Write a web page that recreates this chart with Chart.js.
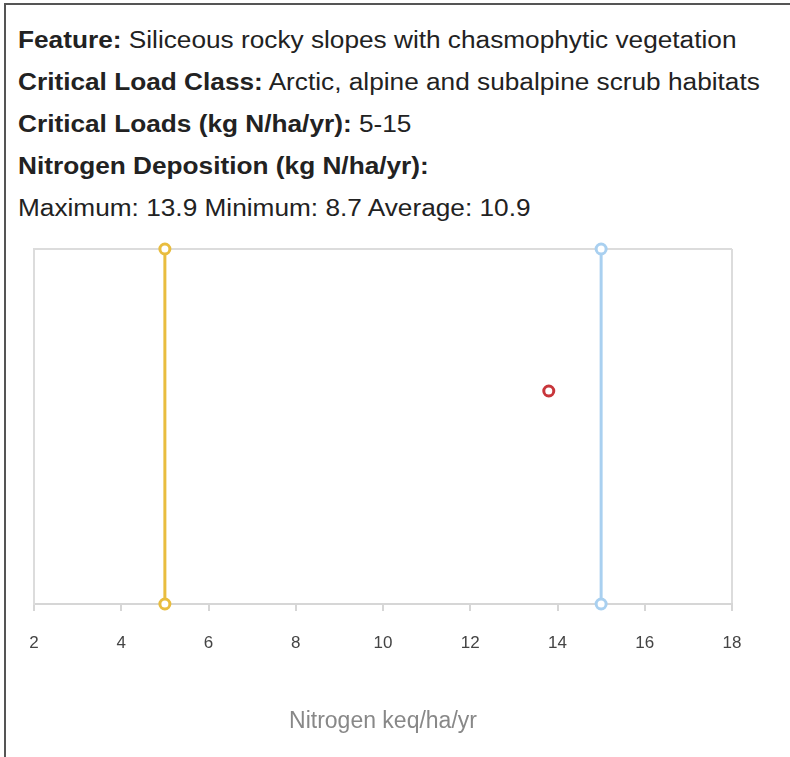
<!DOCTYPE html>
<html>
<head>
<meta charset="utf-8">
<script src="https://cdn.jsdelivr.net/npm/chart.js@4/dist/chart.umd.min.js"></script>
<style>
  html, body { margin: 0; padding: 0; background: #fff; width: 790px; height: 757px; overflow: hidden; }
  .frame { position: absolute; left: 4px; top: 3px; width: 800px; height: 800px;
           border-left: 2px solid #555; border-top: 2px solid #555; }
  .info { position: absolute; left: 18px; top: 19px; font-family: "Liberation Sans", Arial, sans-serif;
          font-size: 23px; color: #222; line-height: 42px; white-space: nowrap;
          transform: scaleX(1.14); transform-origin: 0 0; }
  .info b { font-weight: bold; }
  #wrap { position: absolute; left: 0; top: 230px; width: 790px; height: 527px; }
</style>
</head>
<body>
<div class="frame"></div>
<div class="info">
  <div><b>Feature:</b> Siliceous rocky slopes with chasmophytic vegetation</div>
  <div><b>Critical Load Class:</b> Arctic, alpine and subalpine scrub habitats</div>
  <div><b>Critical Loads (kg N/ha/yr):</b> 5-15</div>
  <div><b>Nitrogen Deposition (kg N/ha/yr):</b></div>
  <div>Maximum: 13.9 Minimum: 8.7 Average: 10.9</div>
</div>
<div id="wrap"><canvas id="c"></canvas></div>
<script>
const criticalLoadMin = 5;
const criticalLoadMax = 15;
const depositionMax = 13.8;
const depositionY = 0.6;
const xTicks = [2, 4, 6, 8, 10, 12, 14, 16, 18];
const lineSpanY = [0, 1];

const ptStyle = { pointRadius: 5, pointHoverRadius: 5, pointBorderWidth: 3, pointBackgroundColor: '#fff' };

new Chart(document.getElementById('c'), {
  type: 'scatter',
  data: {
    datasets: [
      Object.assign({
        label: 'Critical load min',
        data: lineSpanY.map(y => ({ x: criticalLoadMin, y })),
        showLine: true, borderColor: '#e9bd3f', pointBorderColor: '#e9bd3f', borderWidth: 3, clip: false
      }, ptStyle),
      Object.assign({
        label: 'Critical load max',
        data: lineSpanY.map(y => ({ x: criticalLoadMax, y })),
        showLine: true, borderColor: '#a9d0f0', pointBorderColor: '#a9d0f0', borderWidth: 3, clip: false
      }, ptStyle),
      Object.assign({
        label: 'Maximum deposition',
        data: [{ x: depositionMax, y: depositionY }],
        showLine: false, borderColor: '#c8363b', pointBorderColor: '#c8363b', clip: false
      }, ptStyle, { pointRadius: 5, pointBorderWidth: 3 })
    ]
  },
  options: {
    responsive: true,
    maintainAspectRatio: false,
    animation: false,
    layout: { padding: { left: 34, right: 58, top: 19, bottom: 0 } },
    plugins: { legend: { display: false }, tooltip: { enabled: false } },
    scales: {
      x: {
        type: 'linear',
        min: xTicks[0], max: xTicks[xTicks.length - 1],
        afterBuildTicks: (axis) => { axis.ticks = xTicks.map(v => ({ value: v })); },
        ticks: { color: '#444', font: { family: 'Liberation Sans, Arial, sans-serif', size: 17 }, padding: 22, maxRotation: 0 },
        grid: {
          drawTicks: true, tickLength: 7, tickColor: '#d6d6d6', lineWidth: 2,
          color: (ctx) => (ctx.index === 0 || ctx.index === xTicks.length - 1) ? '#dcdcdc' : 'rgba(0,0,0,0)'
        },
        border: { display: true, color: '#d6d6d6', width: 2 },
        title: { display: true, text: 'Nitrogen keq/ha/yr', color: '#888', font: { family: 'Liberation Sans, Arial, sans-serif', size: 23 }, padding: { top: 32, bottom: 22 } }
      },
      y: {
        type: 'linear', min: 0, max: 1,
        ticks: { display: false, stepSize: 1 },
        grid: { drawTicks: false, color: '#dcdcdc', lineWidth: 2 },
        border: { display: true, color: '#dcdcdc', width: 2 }
      }
    }
  }
});
</script>
</body>
</html>
